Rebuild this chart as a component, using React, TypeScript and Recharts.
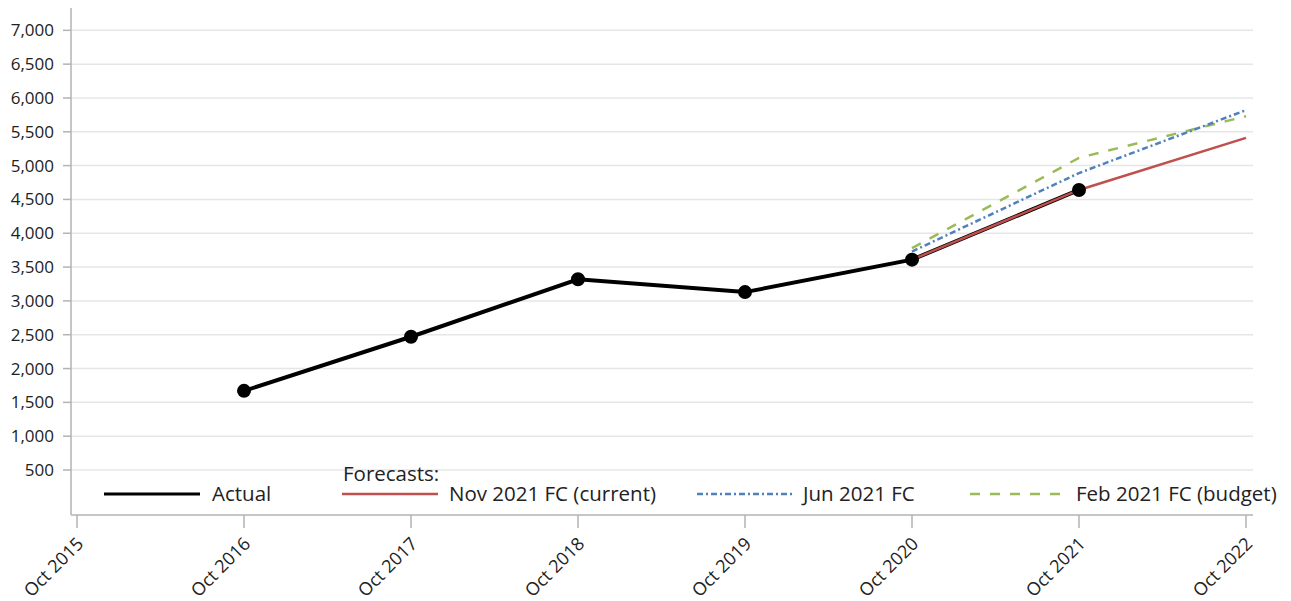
import React from 'react';
import { LineChart, Line, XAxis, YAxis, CartesianGrid } from 'recharts';

const years = [2015, 2016, 2017, 2018, 2019, 2020, 2021, 2022];
const actual = [null, 1670, 2470, 3320, 3130, 3610, 4640, null];
const novFC = [null, null, null, null, null, 3610, 4640, 5410];
const junFC = [null, null, null, null, null, 3730, 4890, 5820];
const febFC = [null, null, null, null, null, 3780, 5115, 5730];
const yTicks = [500, 1000, 1500, 2000, 2500, 3000, 3500, 4000, 4500, 5000, 5500, 6000, 6500, 7000];
const xTickLabels = years.map((y) => `Oct ${y}`);

const series = [
  { key: 'actual', name: 'Actual', color: '#000000', dash: undefined as string | undefined, width: 3 },
  { key: 'nov', name: 'Nov 2021 FC (current)', color: '#C0504D', dash: undefined as string | undefined, width: 2.5 },
  { key: 'jun', name: 'Jun 2021 FC', color: '#4F81BD', dash: '6 3 2 3', width: 2.5 },
  { key: 'feb', name: 'Feb 2021 FC (budget)', color: '#9BBB59', dash: '10 10', width: 2.5 },
];

const data = years.map((y, i) => ({
  x: y,
  actual: actual[i],
  nov: novFC[i],
  jun: junFC[i],
  feb: febFC[i],
}));

const FONT = '"Open Sans", "Noto Sans", sans-serif';

const XTick = (props: any) => {
  const { x, y, payload } = props;
  const idx = years.indexOf(payload.value);
  const ax = x + 2.5;
  const ay = y + 10;
  return (
    <text
      x={ax}
      y={ay}
      transform={`rotate(-45 ${ax} ${ay})`}
      textAnchor="end"
      dominantBaseline="central"
      fontSize={18}
      fill="#222"
      fontFamily={FONT}
    >
      {idx >= 0 ? xTickLabels[idx] : payload.value}
    </text>
  );
};

const legendPos = [
  { line: [96, 192], text: 204 },
  { line: [334, 430], text: 441 },
  { line: [689, 785], text: 795 },
  { line: [962, 1056], text: 1068 },
];

const Legend = () => (
  <div style={{ position: 'absolute', left: 0, top: 0, width: 1275, height: 593, pointerEvents: 'none', fontFamily: FONT }}>
    <div style={{ position: 'absolute', left: 335, top: 453, fontSize: 20.5, color: '#222', lineHeight: '24px' }}>Forecasts:</div>
    {series.map((s, i) => (
      <React.Fragment key={s.key}>
        <svg style={{ position: 'absolute', left: legendPos[i].line[0], top: 480, overflow: 'visible' }} width={legendPos[i].line[1] - legendPos[i].line[0]} height={12}>
          <line x1={0} y1={6} x2={legendPos[i].line[1] - legendPos[i].line[0]} y2={6} stroke={s.color} strokeWidth={s.width} strokeDasharray={s.dash} />
        </svg>
        <div style={{ position: 'absolute', left: legendPos[i].text, top: 473, fontSize: 20.5, color: '#222', lineHeight: '24px', whiteSpace: 'nowrap' }}>{s.name}</div>
      </React.Fragment>
    ))}
  </div>
);

const gridGen = (props: any) => {
  const scale = props?.yAxis?.scale;
  if (scale && typeof scale === 'function') return yTicks.map((t) => scale(t));
  if (scale && typeof scale.map === 'function') return yTicks.map((t) => scale.map(t));
  return [];
};

export default function App() {
  return (
    <div style={{ position: 'relative', width: 1275, height: 593 }}>
      <LineChart width={1275} height={593} data={data} margin={{ top: 0, right: 30, left: 0, bottom: 0 }} style={{ fontFamily: FONT }}>
        <CartesianGrid horizontal vertical={false} stroke="#e6e6e6" strokeWidth={1.5} horizontalCoordinatesGenerator={gridGen} />
        <XAxis
          dataKey="x"
          type="number"
          domain={[2014.964, 2022.042]}
          ticks={years}
          interval={0}
          tick={<XTick />}
          tickSize={13}
          height={86}
          axisLine={{ stroke: '#b3b3b3', strokeWidth: 1.5 }}
          tickLine={{ stroke: '#b3b3b3', strokeWidth: 1.5 }}
          allowDataOverflow
        />
        <YAxis
          type="number"
          domain={[-165, 7330]}
          ticks={yTicks}
          interval={0}
          width={63}
          tickSize={8}
          tickMargin={9}
          tickFormatter={(v: number) => v.toLocaleString('en-US')}
          tick={{ fontSize: 17, fill: '#222', fontFamily: FONT }}
          axisLine={{ stroke: '#b3b3b3', strokeWidth: 1.5 }}
          tickLine={{ stroke: '#b3b3b3', strokeWidth: 1.5 }}
          allowDataOverflow
        />
        <Line dataKey="actual" stroke="#000" strokeWidth={4} dot={false} activeDot={false} isAnimationActive={false} />
        <Line dataKey="feb" stroke="#9BBB59" strokeWidth={2.5} strokeDasharray="10 10" dot={false} activeDot={false} isAnimationActive={false} />
        <Line dataKey="jun" stroke="#4F81BD" strokeWidth={2.5} strokeDasharray="6 3 2 3" dot={false} activeDot={false} isAnimationActive={false} />
        <Line dataKey="nov" stroke="#C0504D" strokeWidth={2.5} dot={false} activeDot={false} isAnimationActive={false} />
        <Line dataKey="actual" stroke="none" dot={{ r: 6, fill: '#000', stroke: '#000', strokeWidth: 2 }} activeDot={false} isAnimationActive={false} legendType="none" />
      </LineChart>
      <Legend />
    </div>
  );
}
